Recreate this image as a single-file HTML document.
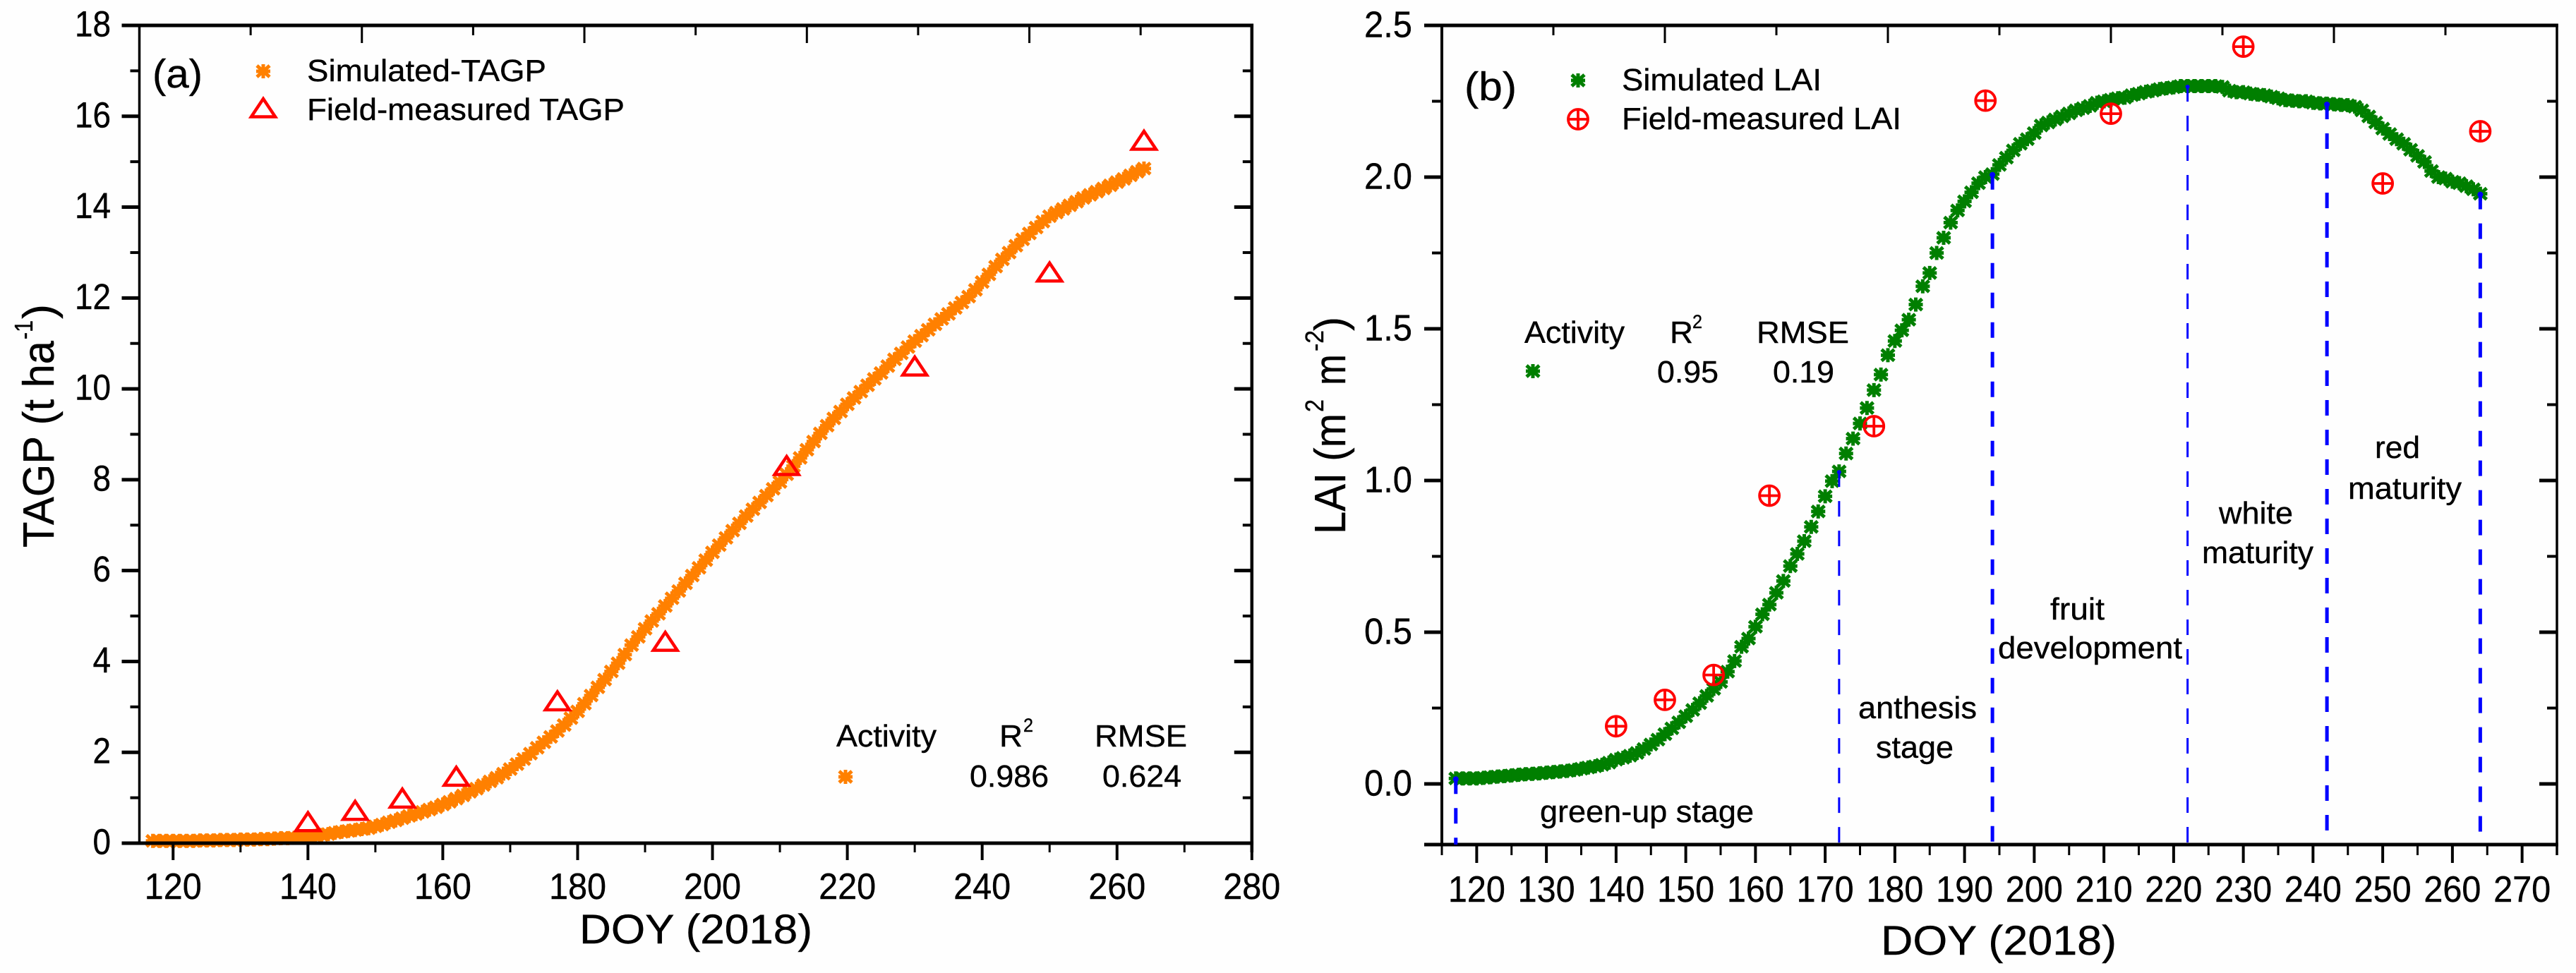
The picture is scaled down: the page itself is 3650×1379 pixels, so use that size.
<!DOCTYPE html>
<html lang="en">
<head>
<meta charset="utf-8">
<title>TAGP and LAI simulation vs field measurement, DOY 2018</title>
<style>
html,body{margin:0;padding:0;background:#fff;}
svg{display:block;}
text{font-family:"Liberation Sans",sans-serif;fill:#000;stroke:#000;stroke-width:.4px;}
.lg{font-size:44px;}
.ax{font-size:58px;}
.yt{font-size:62px;}
.sup{font-size:36px;}
.pl{font-size:57px;}
</style>
</head>
<body>
<svg id="figure" xmlns="http://www.w3.org/2000/svg" width="3650" height="1379" viewBox="0 0 3650 1379">
<rect x="0" y="0" width="3650" height="1379" fill="#fefefe"/>

<g id="panel-a"></g>
<g id="panel-b"></g>

<g>
  <text class="pl" x="216" y="124" textLength="71" lengthAdjust="spacingAndGlyphs">(a)</text>
  <text class="lg" x="435" y="115" textLength="339" lengthAdjust="spacingAndGlyphs">Simulated-TAGP</text>
  <text class="lg" x="435" y="170" textLength="450" lengthAdjust="spacingAndGlyphs">Field-measured TAGP</text>
  <text class="lg" x="1185" y="1058" textLength="142" lengthAdjust="spacingAndGlyphs">Activity</text>
  <text class="lg" x="1416" y="1058" textLength="33" lengthAdjust="spacingAndGlyphs">R</text>
  <text class="sup" style="font-size:27px" x="1450" y="1037" textLength="14" lengthAdjust="spacingAndGlyphs">2</text>
  <text class="lg" x="1551" y="1058" textLength="131" lengthAdjust="spacingAndGlyphs">RMSE</text>
  <text class="lg" x="1374" y="1115" textLength="112" lengthAdjust="spacingAndGlyphs">0.986</text>
  <text class="lg" x="1562" y="1115" textLength="112" lengthAdjust="spacingAndGlyphs">0.624</text>
  <text class="ax" x="821" y="1337" textLength="330" lengthAdjust="spacingAndGlyphs">DOY (2018)</text>
  <text class="yt" transform="translate(76,776) rotate(-90)" textLength="293" lengthAdjust="spacingAndGlyphs">TAGP (t ha</text>
  <text class="sup" transform="translate(46,481) rotate(-90)" textLength="27" lengthAdjust="spacingAndGlyphs">-1</text>
  <text class="yt" transform="translate(76,452) rotate(-90)" textLength="21" lengthAdjust="spacingAndGlyphs">)</text>
</g>

<g>
  <text class="pl" x="2075" y="142" textLength="74" lengthAdjust="spacingAndGlyphs">(b)</text>
  <text class="lg" x="2298" y="128" textLength="283" lengthAdjust="spacingAndGlyphs">Simulated LAI</text>
  <text class="lg" x="2298" y="183" textLength="396" lengthAdjust="spacingAndGlyphs">Field-measured LAI</text>
  <text class="lg" x="2160" y="486" textLength="142" lengthAdjust="spacingAndGlyphs">Activity</text>
  <text class="lg" x="2366" y="486" textLength="33" lengthAdjust="spacingAndGlyphs">R</text>
  <text class="sup" style="font-size:27px" x="2398" y="465" textLength="14" lengthAdjust="spacingAndGlyphs">2</text>
  <text class="lg" x="2489" y="486" textLength="131" lengthAdjust="spacingAndGlyphs">RMSE</text>
  <text class="lg" x="2348" y="542" textLength="87" lengthAdjust="spacingAndGlyphs">0.95</text>
  <text class="lg" x="2512" y="542" textLength="87" lengthAdjust="spacingAndGlyphs">0.19</text>
  <text class="lg" x="2182" y="1165" textLength="303" lengthAdjust="spacingAndGlyphs">green-up stage</text>
  <text class="lg" x="2633" y="1018" textLength="168" lengthAdjust="spacingAndGlyphs">anthesis</text>
  <text class="lg" x="2658" y="1074" textLength="110" lengthAdjust="spacingAndGlyphs">stage</text>
  <text class="lg" x="2905" y="878" textLength="77" lengthAdjust="spacingAndGlyphs">fruit</text>
  <text class="lg" x="2831" y="933" textLength="261" lengthAdjust="spacingAndGlyphs">development</text>
  <text class="lg" x="3144" y="742" textLength="105" lengthAdjust="spacingAndGlyphs">white</text>
  <text class="lg" x="3120" y="798" textLength="158" lengthAdjust="spacingAndGlyphs">maturity</text>
  <text class="lg" x="3365" y="649" textLength="64" lengthAdjust="spacingAndGlyphs">red</text>
  <text class="lg" x="3327" y="707" textLength="161" lengthAdjust="spacingAndGlyphs">maturity</text>
  <text class="ax" x="2665" y="1353" textLength="334" lengthAdjust="spacingAndGlyphs">DOY (2018)</text>
  <text class="yt" transform="translate(1906,757) rotate(-90)" textLength="171" lengthAdjust="spacingAndGlyphs">LAI (m</text>
  <text class="sup" transform="translate(1875,584) rotate(-90)" textLength="18" lengthAdjust="spacingAndGlyphs">2</text>
  <text class="yt" transform="translate(1906,546) rotate(-90)" textLength="44" lengthAdjust="spacingAndGlyphs">m</text>
  <text class="sup" transform="translate(1875,498) rotate(-90)" textLength="30" lengthAdjust="spacingAndGlyphs">-2</text>
  <text class="yt" transform="translate(1906,469) rotate(-90)" textLength="20" lengthAdjust="spacingAndGlyphs">)</text>
</g>
</svg>

<script>
/* ---------- panel (a) data ---------- */
const tagpSimDoy = [117,118,119,120,121,122,123,124,125,126,127,128,129,130,
131,132,133,134,135,136,137,138,139,140,141,142,143,144,145,146,147,148,149,150,
151,152,153,154,155,156,157,158,159,160,161,162,163,164,165,166,167,168,169,170,
171,172,173,174,175,176,177,178,179,180,181,182,183,184,185,186,187,188,189,190,
191,192,193,194,195,196,197,198,199,200,201,202,203,204,205,206,207,208,209,210,
211,212,213,214,215,216,217,218,219,220,221,222,223,224,225,226,227,228,229,230,
231,232,233,234,235,236,237,238,239,240,241,242,243,244,245,246,247,248,249,250,
251,252,253,254,255,256,257,258,259,260,261,262,263,264];
const tagpSimValues = [.05,.05,.05,.05,.05,.05,.05,.06,.06,.06,.07,.07,.07,.08,
.08,.08,.09,.09,.10,.11,.11,.12,.13,.15,
.16,.18,.20,.23,.25,.27,.29,.31,.33,.37,
.41,.46,.50,.55,.60,.64,.69,.74,.79,.85,
.91,.98,1.05,1.13,1.20,1.28,1.36,1.44,1.53,1.63,
1.74,1.85,1.97,2.10,2.22,2.34,2.47,2.60,2.75,2.90,
3.07,3.25,3.43,3.60,3.78,3.96,4.15,4.36,4.54,4.72,
4.89,5.05,5.22,5.39,5.55,5.72,5.89,6.06,6.23,6.40,
6.56,6.72,6.88,7.04,7.20,7.35,7.50,7.65,7.80,7.95,
8.12,8.30,8.48,8.66,8.84,9.02,9.19,9.35,9.50,9.66,
9.80,9.94,10.08,10.22,10.35,10.50,10.65,10.78,10.92,11.05,
11.17,11.30,11.42,11.54,11.65,11.78,11.90,12.03,12.18,12.35,
12.52,12.69,12.85,13.00,13.15,13.29,13.42,13.55,13.68,13.80,
13.88,13.96,14.04,14.12,14.20,14.27,14.34,14.41,14.48,14.55,
14.62,14.70,14.78,14.85];
const tagpFieldDoy = [140,147,154,162,177,193,211,230,250,264];
const tagpFieldValues = [0.5,0.75,1.02,1.5,3.16,4.47,8.34,10.53,12.6,15.5];
const tagpXMajor = [120,140,160,180,200,220,240,260,280];
const tagpXMinor = [130,150,170,190,210,230,250,270];
const tagpYMajor = [0,2,4,6,8,10,12,14,16,18];
const tagpYMinor = [1,3,5,7,9,11,13,15,17];

/* ---------- panel (b) data ---------- */
const laiSimDoy = [117,118,119,120,121,122,123,124,125,126,127,128,129,130,
131,132,133,134,135,136,137,138,139,140,141,142,143,144,145,146,147,148,149,150,
151,152,153,154,155,156,157,158,159,160,161,162,163,164,165,166,167,168,169,170,
171,172,173,174,175,176,177,178,179,180,181,182,183,184,185,186,187,188,189,190,
191,192,193,194,195,196,197,198,199,200,201,202,203,204,205,206,207,208,209,210,
211,212,213,214,215,216,217,218,219,220,221,222,223,224,225,226,227,228,229,230,
231,232,233,234,235,236,237,238,239,240,241,242,243,244,245,246,247,248,249,250,
251,252,253,254,255,256,257,258,259,260,261,262,263,264];
const laiSimValues = [.018,.018,.018,.018,.020,.022,.024,.026,.028,.030,.032,.033,.035,.037,
.039,.041,.043,.046,.050,.054,.058,.063,.070,.080,
.086,.093,.102,.115,.130,.146,.164,.183,.203,.223,
.244,.266,.290,.313,.336,.370,.405,.452,.479,.518,
.559,.591,.63,.669,.718,.758,.80,.847,.898,.948,
.998,1.03,1.089,1.138,1.188,1.239,1.298,1.349,1.413,1.46,
1.495,1.53,1.58,1.64,1.684,1.75,1.80,1.85,1.89,1.92,
1.95,1.98,2.0,2.01,2.04,2.064,2.088,2.11,2.125,2.145,
2.17,2.18,2.19,2.20,2.21,2.22,2.227,2.235,2.245,2.25,
2.255,2.26,2.262,2.27,2.275,2.281,2.285,2.29,2.293,2.296,
2.30,2.30,2.30,2.30,2.30,2.30,2.297,2.285,2.28,2.28,
2.275,2.272,2.27,2.265,2.26,2.254,2.252,2.25,2.25,2.245,
2.243,2.242,2.24,2.238,2.237,2.232,2.22,2.20,2.18,2.16,
2.142,2.125,2.11,2.09,2.07,2.05,2.02,2.00,1.995,1.985,
1.98,1.97,1.96,1.945];
const laiFieldDoy = [140,147,154,162,177,193,211,230,250,264];
const laiFieldValues = [0.19,0.277,0.359,0.95,1.179,2.252,2.209,2.43,1.979,2.151];
const laiXMajor = [120,130,140,150,160,170,180,190,200,210,220,230,240,250,260,270];
const laiXMinor = [115,125,135,145,155,165,175,185,195,205,215,225,235,245,255,265,275];
const laiYMajor = [0,0.5,1,1.5,2,2.5];
const laiYMajorLabels = ['0.0','0.5','1.0','1.5','2.0','2.5'];
const laiYMinor = [0.25,0.75,1.25,1.75,2.25];
const stageBoundaryDoy = [117,172,194,222,242,264];

/* ---------- helpers ---------- */
const NS = 'http://www.w3.org/2000/svg';
function mk(parent, tag, attrs) {
  const el = document.createElementNS(NS, tag);
  for (const k in attrs) el.setAttribute(k, attrs[k]);
  parent.appendChild(el);
  return el;
}
function linear(d0, d1, r0, r1) {
  return v => r0 + (v - d0) * (r1 - r0) / (d1 - d0);
}
function starPath(cx, cy) {
  return 'M' + cx + ' ' + (cy - 10) + 'V' + (cy + 10) +
    'M' + (cx - 10) + ' ' + cy + 'H' + (cx + 10) +
    'M' + (cx - 9) + ' ' + (cy - 8) + 'L' + (cx + 9) + ' ' + (cy + 8) +
    'M' + (cx - 9) + ' ' + (cy + 8) + 'L' + (cx + 9) + ' ' + (cy - 8);
}
function drawStar(g, cx, cy, color, name) {
  const el = mk(g, 'path', {d: starPath(cx, cy), stroke: color, 'stroke-width': 5, fill: 'none'});
  
  
}
function drawTriangle(g, cx, cy, name) {
  const el = mk(g, 'path', {
    d: 'M' + cx + ' ' + (cy - 11) + 'L' + (cx + 17) + ' ' + (cy + 14.5) + 'H' + (cx - 17) + 'Z',
    stroke: '#ff0000', 'stroke-width': 4.5, fill: 'none'
  });
  
  
}
function drawCirclePlus(g, cx, cy, name) {
  const el = mk(g, 'path', {
    d: 'M' + (cx - 14) + ' ' + cy + 'a14 14 0 1 0 28 0a14 14 0 1 0 -28 0' +
       'M' + (cx - 14) + ' ' + cy + 'H' + (cx + 14) + 'M' + cx + ' ' + (cy - 14) + 'V' + (cy + 14),
    stroke: '#ff0000', 'stroke-width': 3.8, fill: 'none'
  });
  
  
}
function drawAxes(g, o) {
  const {x, y, left, right, top, bottom} = o;
  const frame = [
    [left, top - 2.5, left, bottom, o.lw],
    [right, top - 2.5, right, bottom + o.minorDown, o.rw],
    [left - o.yMajorLen, top, right + o.rw / 2, top, 5],
    [left - o.yMajorLen, bottom, right + o.rw / 2, bottom, 5]
  ];
  frame.forEach(f => {
    const el = mk(g, 'line', {x1: f[0], y1: f[1], x2: f[2], y2: f[3], stroke: '#000', 'stroke-width': f[4]});
    
    
  });
  o.xMajor.forEach(v => {
    const el = mk(g, 'line', {x1: x(v), x2: x(v), y1: bottom, y2: bottom + o.majorDown, stroke: '#000', 'stroke-width': 4});
    
    
    const t = mk(g, 'text', {x: x(v), y: o.xLabelY, 'text-anchor': 'middle', 'font-size': 52, textLength: 81, lengthAdjust: 'spacingAndGlyphs'});
    t.textContent = String(v);
    
    
  });
  o.xMinor.forEach(v => {
    const el = mk(g, 'line', {x1: x(v), x2: x(v), y1: bottom, y2: bottom + o.minorDown, stroke: '#000', 'stroke-width': 3});
    
    
  });
  o.yMajor.forEach((v, i) => {
    const a = mk(g, 'line', {x1: left - o.yMajorLen, x2: left, y1: y(v), y2: y(v), stroke: '#000', 'stroke-width': 5});
    
    
    const b = mk(g, 'line', {x1: right - o.yMajorLen, x2: right, y1: y(v), y2: y(v), stroke: '#000', 'stroke-width': 5});
    
    
    const s = o.yLabels ? o.yLabels[i] : String(v);
    const t = mk(g, 'text', {x: o.yLabelX, y: y(v) + o.yLabelDy, 'text-anchor': 'end', 'font-size': o.yFont,
      textLength: o.yLabels ? 68 : 25.5 * s.length, lengthAdjust: 'spacingAndGlyphs'});
    t.textContent = s;
    
    
  });
  o.yMinor.forEach(v => {
    const a = mk(g, 'line', {x1: left - o.yMinorLen, x2: left, y1: y(v), y2: y(v), stroke: '#000', 'stroke-width': 4});
    
    
    const b = mk(g, 'line', {x1: right - o.yMinorLen, x2: right, y1: y(v), y2: y(v), stroke: '#000', 'stroke-width': 4});
    
    
  });
  for (let k = 1; k < 10; k++) {
    const px = left + (right - left) * k / 10;
    const el = mk(g, 'line', {x1: px, x2: px, y1: top, y2: top + (k % 2 === 0 ? 25 : 14), stroke: '#000', 'stroke-width': 3});
    
    
  }
}

/* ---------- panel (a) ---------- */
const gA = document.getElementById('panel-a');
const xA = linear(115, 280, 197.5, 1773.8);
const yA = linear(0, 18, 1195, 36);
tagpSimDoy.forEach((d, i) => drawStar(gA, xA(d), yA(tagpSimValues[i]), '#ff8000', 'simulated-tagp-point'));
drawAxes(gA, {x: xA, y: yA, left: 197.5, right: 1773.8, top: 36, bottom: 1195, lw: 3.5, rw: 4.5,
  majorDown: 24, minorDown: 13, yMajorLen: 25, yMinorLen: 13, xLabelY: 1274, yLabelX: 157, yLabelDy: 15.5, yFont: 51,
  xMajor: tagpXMajor, xMinor: tagpXMinor, yMajor: tagpYMajor, yMinor: tagpYMinor});
tagpFieldDoy.forEach((d, i) => drawTriangle(gA, xA(d), yA(tagpFieldValues[i]), 'field-measured-tagp-point'));
drawStar(gA, 373, 101, '#ff8000', 'legend-marker-simulated-tagp');
drawTriangle(gA, 373, 151, 'legend-marker-field-tagp');
drawStar(gA, 1198, 1101, '#ff8000', 'stats-marker-tagp');

/* ---------- panel (b) ---------- */
const gB = document.getElementById('panel-b');
const xB = linear(115, 275, 2043, 3623);
const yB = linear(0, 2.5, 1111, 36);
laiSimDoy.forEach((d, i) => drawStar(gB, xB(d), yB(laiSimValues[i]), '#007f00', 'simulated-lai-point'));
drawAxes(gB, {x: xB, y: yB, left: 2043, right: 3623, top: 36, bottom: 1197, lw: 4, rw: 3.5,
  majorDown: 26, minorDown: 15, yMajorLen: 25, yMinorLen: 14, xLabelY: 1278, yLabelX: 2001, yLabelDy: 16.5, yFont: 52,
  xMajor: laiXMajor, xMinor: laiXMinor, yMajor: laiYMajor, yLabels: laiYMajorLabels, yMinor: laiYMinor});
stageBoundaryDoy.forEach(d => {
  const idx = laiSimDoy.indexOf(d);
  const top = yB(laiSimValues[idx]);
  const w = (d === 172 || d === 222) ? 3 : 5;
  const line = mk(gB, 'line', {x1: xB(d), x2: xB(d), y1: top, y2: 1197, stroke: '#0000ff', 'stroke-width': w, 'stroke-dasharray': '22 20'});
  
  
  const dot = mk(gB, 'circle', {cx: xB(d), cy: top + 1, r: w === 3 ? 3 : 4, fill: '#0000ff'});
  
  
});
laiFieldDoy.forEach((d, i) => drawCirclePlus(gB, xB(d), yB(laiFieldValues[i]), 'field-measured-lai-point'));
drawStar(gB, 2236, 114, '#007f00', 'legend-marker-simulated-lai');
drawCirclePlus(gB, 2236, 169, 'legend-marker-field-lai');
drawStar(gB, 2172, 526, '#007f00', 'stats-marker-lai');
</script>
</body>
</html>
